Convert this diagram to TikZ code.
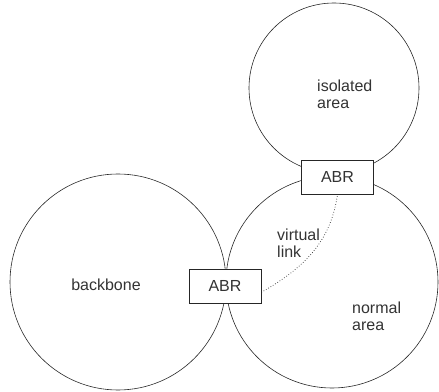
\documentclass[tikz,border=0pt]{standalone}
\usepackage{fontspec}
\setmainfont{Liberation Sans}
\usepackage{tikz}

\begin{document}
\begin{tikzpicture}[x=1pt, y=1pt,
    area/.style={circle, draw=black!85, line width=0.6pt, inner sep=0pt},
    abr/.style={draw=black!85, fill=white, line width=0.6pt, minimum width=72pt, minimum height=34pt, inner sep=0pt},
    lbl/.style={text=black!80, align=left, inner sep=0pt, font=\fontsize{16}{17}\selectfont}]
            \useasboundingbox (0,0) rectangle (439,391);
            \def\Rb{108}
            \def\Rn{106}
            \def\Ri{85}
            
            \node[area, minimum size=2*\Rb] (backbone) at (118,109) {};
            \node[area, minimum size=2*\Rn] (normal) at (332,109) {};
            \node[area, minimum size=2*\Ri] (isolated) at (334,303) {};
            
            \node[abr, font=\fontsize{16}{17}\selectfont, text=black!80] (abrlow) at (225,105) {ABR};
            \node[abr, font=\fontsize{16}{17}\selectfont, text=black!80] (abrup) at (337.5,214) {ABR};
            
            \draw[black!85, dotted, line width=0.7pt] (abrlow.-10) to[out=30, in=-98] (abrup.south);
            
            \node[lbl] (tbackbone) at (106,106) {backbone};
            \node[lbl, anchor=west] (tisolated) at (317,297) {isolated\\area};
            \node[lbl, anchor=west] (tvirtual) at (277,148) {virtual\\link};
            \node[lbl, anchor=west] (tnormal) at (352,75) {normal\\area};
            
        \end{tikzpicture}
\end{document}
